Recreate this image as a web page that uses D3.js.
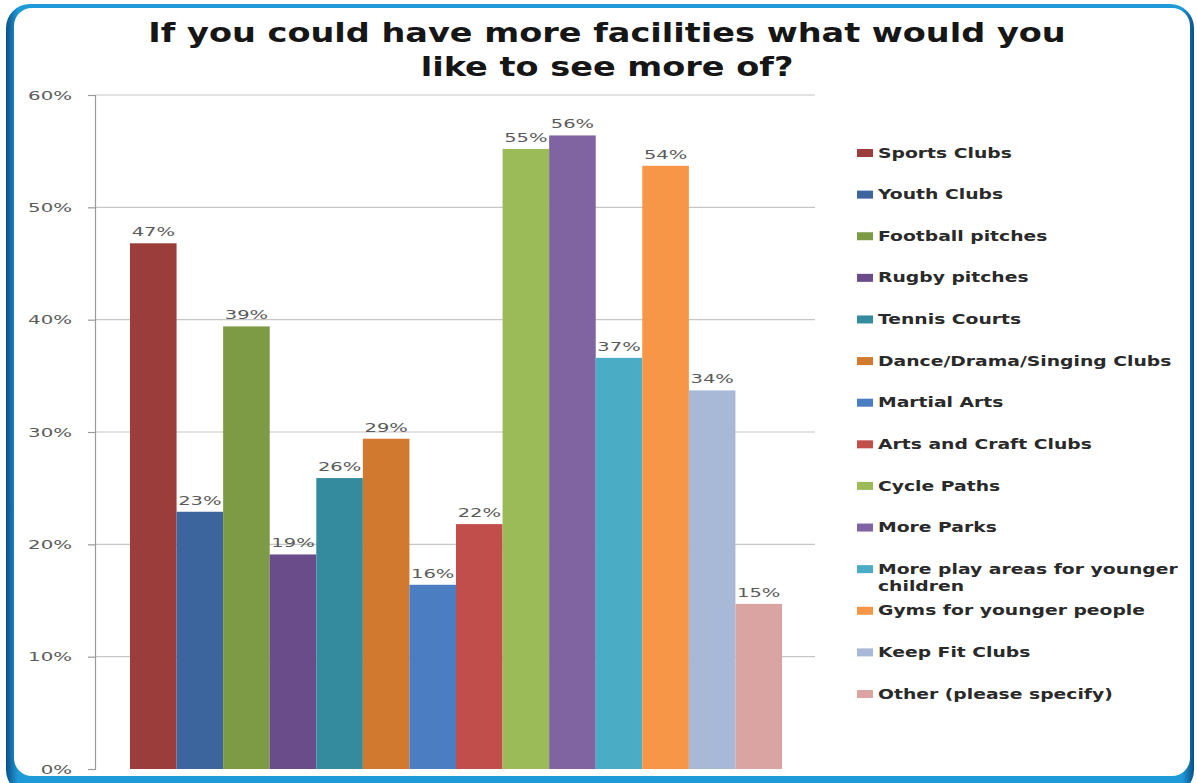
<!DOCTYPE html>
<html>
<head>
<meta charset="utf-8">
<script src="https://cdn.jsdelivr.net/npm/d3@7"></script>
<style>
  html, body { margin: 0; padding: 0; background: #ffffff; }
  svg { display: block; }
</style>
</head>
<body>
<svg id="chart" width="1197" height="783"></svg>
<script>
// Survey answers: one bar per facility
const facilities = [
  "Sports Clubs", "Youth Clubs", "Football pitches", "Rugby pitches",
  "Tennis Courts", "Dance/Drama/Singing Clubs", "Martial Arts",
  "Arts and Craft Clubs", "Cycle Paths", "More Parks",
  "More play areas for younger children", "Gyms for younger people",
  "Keep Fit Clubs", "Other (please specify)"
];
const shares = [46.8, 22.9, 39.4, 19.1, 25.9, 29.4, 16.4, 21.8, 55.2, 56.4, 36.6, 53.7, 33.7, 14.7];
const barColors = [
  "#9b3d3a", "#3d659d", "#7d9a45", "#6a4c8a", "#358b9e", "#d0792f", "#4a7dc2",
  "#c24e4b", "#9bbb59", "#8064a2", "#4bacc6", "#f79646", "#a7b9d7", "#d9a4a2"
];
const yTicks = [0, 10, 20, 30, 40, 50, 60];
const titleLines = ["If you could have more facilities what would you", "like to see more of?"];

const svg = d3.select("#chart");
const W = 1197, H = 783;
const FONT = "'DejaVu Sans', sans-serif";

// Slide frame: blue rounded border around a white card
const defs = svg.append("defs");
const grad = defs.append("linearGradient").attr("id", "frameGrad")
  .attr("x1", "0").attr("y1", "0").attr("x2", "1").attr("y2", "0");
grad.append("stop").attr("offset", "0").attr("stop-color", "#0a4f86");
grad.append("stop").attr("offset", "0.01").attr("stop-color", "#1e9ad8");
grad.append("stop").attr("offset", "0.99").attr("stop-color", "#1e9ad8");
grad.append("stop").attr("offset", "1").attr("stop-color", "#0a4f86");

svg.append("rect").attr("x", 0).attr("y", 0).attr("width", W).attr("height", H).attr("fill", "#ffffff");
svg.append("rect").attr("x", 6).attr("y", 4).attr("width", 1188).attr("height", 790)
  .attr("rx", 24).attr("fill", "url(#frameGrad)");
svg.append("rect").attr("x", 14).attr("y", 8).attr("width", 1176).attr("height", 768)
  .attr("rx", 18).attr("fill", "#ffffff");

// helper: horizontally widened text anchored at (x, y)
function stretchedText(parent, x, y, str, opts) {
  const g = parent.append("g").attr("transform", `translate(${x},${y}) scale(${opts.stretch},1)`);
  return g.append("text")
    .attr("font-family", FONT)
    .attr("font-size", opts.size)
    .attr("font-weight", opts.weight || "normal")
    .attr("fill", opts.fill || "#333")
    .attr("text-anchor", opts.anchor || "start")
    .attr("dominant-baseline", opts.baseline || "alphabetic")
    .text(str);
}

// Title
titleLines.forEach((line, i) => {
  stretchedText(svg, 607, 42 + i * 34, line,
    { size: 26, weight: "bold", fill: "#161616", anchor: "middle", stretch: 1.29 });
});

// Scales
const plotLeft = 95, plotRight = 815, plotTop = 95, plotBottom = 769;
const y = d3.scaleLinear().domain([0, 60]).range([plotBottom, plotTop]);
const x = d3.scaleBand().domain(facilities).range([130, 782]).paddingInner(0).paddingOuter(0);

// Gridlines
svg.append("g").selectAll("line").data(yTicks.filter(t => t > 0)).join("line")
  .attr("x1", plotLeft).attr("x2", plotRight)
  .attr("y1", d => y(d)).attr("y2", d => y(d))
  .attr("stroke", "#c6c6c6").attr("stroke-width", 1.2);

// Y axis
const yAxis = svg.append("g").attr("transform", `translate(${plotLeft},0)`)
  .call(d3.axisLeft(y).tickValues(yTicks).tickSize(7).tickFormat(() => ""));
yAxis.select(".domain").attr("stroke", "#9a9a9a").attr("stroke-width", 1.2);
yAxis.selectAll(".tick line").attr("stroke", "#9a9a9a").attr("stroke-width", 1.2);
yTicks.forEach(t => {
  stretchedText(svg, 72, y(t), t + "%",
    { size: 13, fill: "#5a5a5a", anchor: "end", baseline: "central", stretch: 1.52 });
});

// Bars
svg.append("g").selectAll("rect").data(facilities).join("rect")
  .attr("x", d => x(d))
  .attr("width", x.bandwidth())
  .attr("y", (d, i) => y(shares[i]))
  .attr("height", (d, i) => y(0) - y(shares[i]))
  .attr("fill", (d, i) => barColors[i]);

// Value labels
facilities.forEach((f, i) => {
  stretchedText(svg, x(f) + x.bandwidth() / 2, y(shares[i]) - 7, Math.round(shares[i]) + "%",
    { size: 13, fill: "#5a5a5a", anchor: "middle", stretch: 1.5 });
});

// Legend
const LEG_STRETCH = 1.34;
const legY = d3.scalePoint().domain(facilities).range([153, 694]);
const legend = svg.append("g");
facilities.forEach((f, i) => {
  const cy = legY(f);
  legend.append("rect").attr("x", 857).attr("y", cy - 4).attr("width", 16).attr("height", 8)
    .attr("fill", barColors[i]);
  // wrap long names onto a second line
  const words = f.split(" ");
  const lines = [];
  let cur = "";
  const probe = svg.append("text").attr("font-family", FONT).attr("font-size", 14).attr("font-weight", "bold");
  words.forEach(w => {
    const test = cur ? cur + " " + w : w;
    probe.text(test);
    if (probe.node().getComputedTextLength() * LEG_STRETCH > 305 && cur) {
      lines.push(cur);
      cur = w;
    } else {
      cur = test;
    }
  });
  lines.push(cur);
  probe.remove();
  lines.forEach((ln, k) => {
    stretchedText(legend, 878, cy + k * 17, ln,
      { size: 14, weight: "bold", fill: "#2a2a2a", baseline: "central", stretch: LEG_STRETCH });
  });
});
</script>
</body>
</html>
